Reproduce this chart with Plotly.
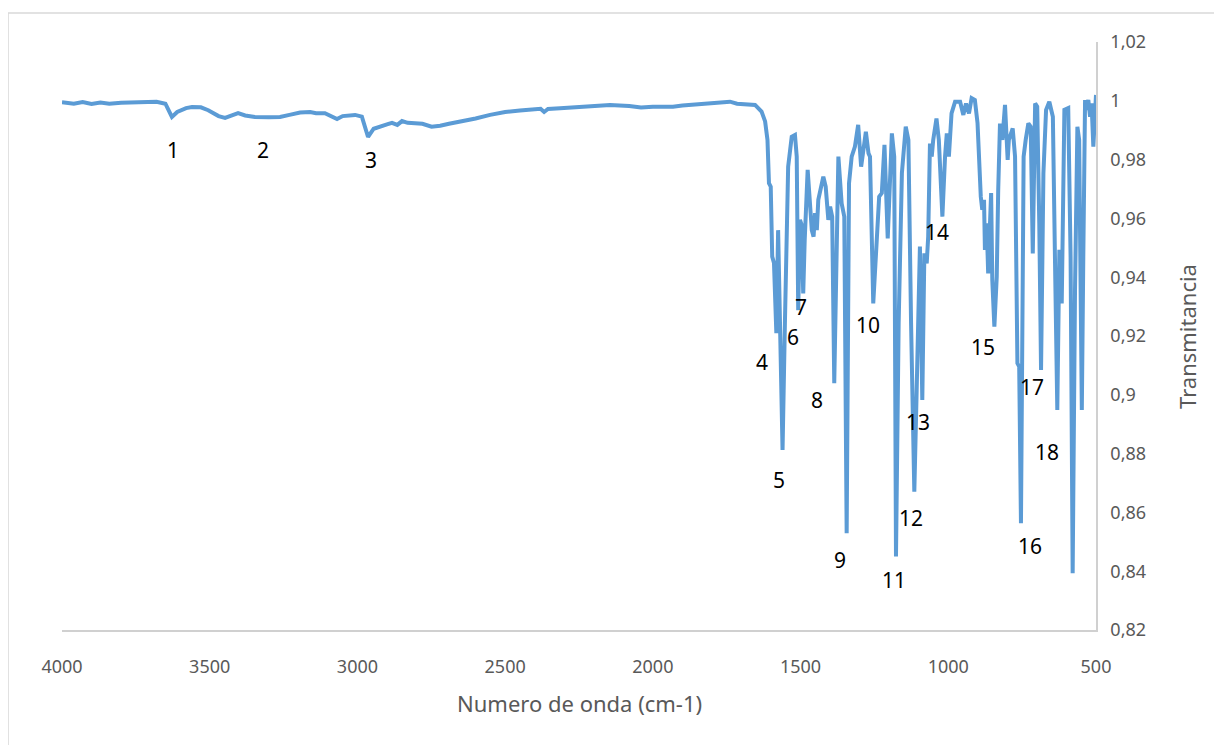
import plotly.graph_objects as go

# Wavenumber (cm-1) and transmittance
wavenumber = [
    4000, 3960, 3930, 3900, 3870, 3840, 3800, 3760, 3720, 3680, 3650, 3628, 3610, 3580,
    3560, 3530, 3505, 3489, 3470, 3448, 3425, 3404, 3380, 3347, 3300, 3262, 3230, 3194,
    3160, 3140, 3110, 3085, 3069, 3050, 3025, 3008, 2985, 2964, 2945, 2930, 2900, 2883,
    2865, 2849, 2830, 2805, 2780, 2749, 2720, 2690, 2653, 2600, 2551, 2500, 2450, 2416,
    2380, 2368, 2355, 2314, 2260, 2213, 2145, 2080, 2040, 2000, 1932, 1900, 1874, 1830,
    1800, 1770, 1739, 1715, 1688, 1654, 1632, 1620, 1612, 1607, 1601, 1596, 1590, 1582,
    1576, 1570, 1561, 1553, 1547, 1542, 1530, 1519, 1513, 1510, 1508, 1502, 1497, 1491,
    1486, 1476, 1471, 1462, 1456, 1451, 1445, 1440, 1423, 1415, 1406, 1400, 1393, 1386,
    1372, 1361, 1352, 1344, 1336, 1327, 1316, 1305, 1295, 1288, 1279, 1270, 1265, 1254,
    1242, 1234, 1225, 1216, 1205, 1191, 1183, 1177, 1168, 1157, 1144, 1135, 1126, 1115,
    1107, 1096, 1088, 1081, 1073, 1068, 1062, 1056, 1051, 1040, 1032, 1020, 1011, 1005,
    998, 989, 977, 960, 949, 940, 930, 921, 910, 901, 890, 885, 879, 876, 870, 865, 855,
    851, 844, 836, 831, 825, 817, 808, 799, 795, 782, 774, 766, 760, 754, 750, 745, 738,
    729, 721, 714, 706, 699, 692, 686, 678, 669, 658, 646, 639, 631, 624, 616, 607, 594,
    586, 579, 571, 563, 557, 552, 548, 543, 537, 532, 526, 520, 515, 509, 503, 500,
]
transmittance = [
    0.9995, 0.9990, 0.9996, 0.9989, 0.9994, 0.9990, 0.9993, 0.9995, 0.9996, 0.9997, 0.9990, 0.9945, 0.9962, 0.9975,
    0.9979, 0.9978, 0.9968, 0.9958, 0.9948, 0.9942, 0.9952, 0.9958, 0.9950, 0.9945, 0.9944, 0.9945, 0.9952, 0.9960,
    0.9962, 0.9958, 0.9958, 0.9948, 0.9938, 0.9948, 0.9950, 0.9952, 0.9946, 0.9877, 0.9905, 0.9911, 0.9920, 0.9925,
    0.9918, 0.9931, 0.9925, 0.9924, 0.9922, 0.9912, 0.9915, 0.9922, 0.9929, 0.9940, 0.9952, 0.9962, 0.9967, 0.9969,
    0.9973, 0.9962, 0.9972, 0.9975, 0.9979, 0.9983, 0.9986, 0.9982, 0.9977, 0.9980, 0.9980, 0.9984, 0.9986, 0.9988,
    0.9990, 0.9992, 0.9997, 0.9990, 0.9988, 0.9986, 0.9963, 0.9930, 0.9867, 0.9720, 0.9708, 0.9470, 0.9448, 0.9210,
    0.9560, 0.9244, 0.8812, 0.9244, 0.9584, 0.9776, 0.9878, 0.9884, 0.9810, 0.9584, 0.9288, 0.9595, 0.9580, 0.9345,
    0.9527, 0.9765, 0.9697, 0.9560, 0.9538, 0.9618, 0.9560, 0.9663, 0.9742, 0.9708, 0.9595, 0.9640, 0.9606, 0.9039,
    0.9810, 0.9651, 0.9606, 0.8529, 0.9719, 0.9810, 0.9844, 0.9918, 0.9776, 0.9833, 0.9895, 0.9821, 0.9810, 0.9311,
    0.9560, 0.9674, 0.9686, 0.9850, 0.9532, 0.9889, 0.9810, 0.8450, 0.9244, 0.9754, 0.9912, 0.9867, 0.9244, 0.8670,
    0.9016, 0.9504, 0.8982, 0.9481, 0.9447, 0.9538, 0.9855, 0.9810, 0.9867, 0.9940, 0.9867, 0.9606, 0.9810, 0.9889,
    0.9810, 0.9957, 0.9997, 0.9997, 0.9952, 0.9991, 0.9957, 1.0009, 1.0003, 0.9924, 0.9674, 0.9629, 0.9663, 0.9493, 0.9583, 0.9413, 0.9686,
    0.9390, 0.9232, 0.9402, 0.9697, 0.9923, 0.9867, 0.9986, 0.9799, 0.9867, 0.9906, 0.9810, 0.9107, 0.9096, 0.8563, 0.9130, 0.9810, 0.9867,
    0.9923, 0.9912, 0.9481, 0.9991, 0.9980, 0.9583, 0.9084, 0.9753, 0.9969, 0.9997, 0.9946, 0.9470, 0.8948, 0.9493, 0.9311, 0.9969, 0.9975,
    0.9470, 0.8393, 0.9357, 0.9912, 0.9867, 0.9357, 0.8948, 0.9470, 1.0003, 0.9969, 1.0003, 0.9946, 0.9991, 0.9844, 1.0014, 1.0020,
]

# Peak labels
label_text = ["1", "2", "3", "4", "5", "6", "7", "8", "9", "10", "11", "12", "13", "14", "15", "16", "17", "18"]
label_x = [3624, 3320, 2954, 1631, 1573, 1524, 1497, 1444, 1366, 1272, 1184, 1126, 1102, 1038, 882, 723, 717, 666]
label_y = [0.9833, 0.9833, 0.9799, 0.9112, 0.8710, 0.9195, 0.9300, 0.8982, 0.8438, 0.9237, 0.8370, 0.8581, 0.8907,
           0.9554, 0.9163, 0.8486, 0.9027, 0.8806]

x_ticks = [4000, 3500, 3000, 2500, 2000, 1500, 1000, 500]
y_ticks = [0.82, 0.84, 0.86, 0.88, 0.90, 0.92, 0.94, 0.96, 0.98, 1.00, 1.02]

FONT = "Noto Sans, Open Sans, sans-serif"

fig = go.Figure()
fig.add_trace(go.Scatter(
    x=wavenumber, y=transmittance, mode="lines",
    line=dict(color="#5B9BD5", width=4),
    showlegend=False, hoverinfo="x+y",
))

annotations = []
for t, lx, ly in zip(label_text, label_x, label_y):
    annotations.append(dict(
        x=lx, y=ly, xref="x", yref="y", text=t, showarrow=False,
        xanchor="center", yanchor="middle",
        font=dict(family=FONT, size=21, color="#000000"),
    ))
annotations.append(dict(
    x=0.5, y=-0.124, xref="paper", yref="paper", text="Numero de onda (cm-1)",
    showarrow=False, xanchor="center", yanchor="middle",
    font=dict(family=FONT, size=22, color="#595959"),
))
annotations.append(dict(
    x=1.088, y=0.5, xref="paper", yref="paper", text="Transmitancia", textangle=-90,
    showarrow=False, xanchor="center", yanchor="middle",
    font=dict(family=FONT, size=22, color="#595959"),
))

fig.update_layout(
    width=1222, height=745,
    margin=dict(l=54, r=134, t=34, b=123),
    paper_bgcolor="white", plot_bgcolor="white",
    separators=",.",
    annotations=annotations,
    shapes=[dict(type="rect", xref="paper", yref="paper",
                 x0=-0.0522, x1=1.2, y0=-0.3, y1=1.0493,
                 line=dict(color="#d9d9d9", width=1.5), fillcolor="rgba(0,0,0,0)", layer="below")],
    xaxis=dict(
        range=[4000, 500], tickvals=x_ticks, ticktext=[str(v) for v in x_ticks],
        showgrid=False, zeroline=False, showline=True, linecolor="#d0d0d0", linewidth=1.5,
        ticks="", ticklabelstandoff=20,
        tickfont=dict(family=FONT, size=18, color="#595959"),
    ),
    yaxis=dict(
        range=[0.82, 1.02], tickvals=y_ticks, side="right",
        showgrid=False, zeroline=False, showline=True, linecolor="#d0d0d0", linewidth=1.5,
        ticks="", ticklabelstandoff=9,
        tickfont=dict(family=FONT, size=18, color="#595959"),
    ),
)

fig.write_html("out.html")
